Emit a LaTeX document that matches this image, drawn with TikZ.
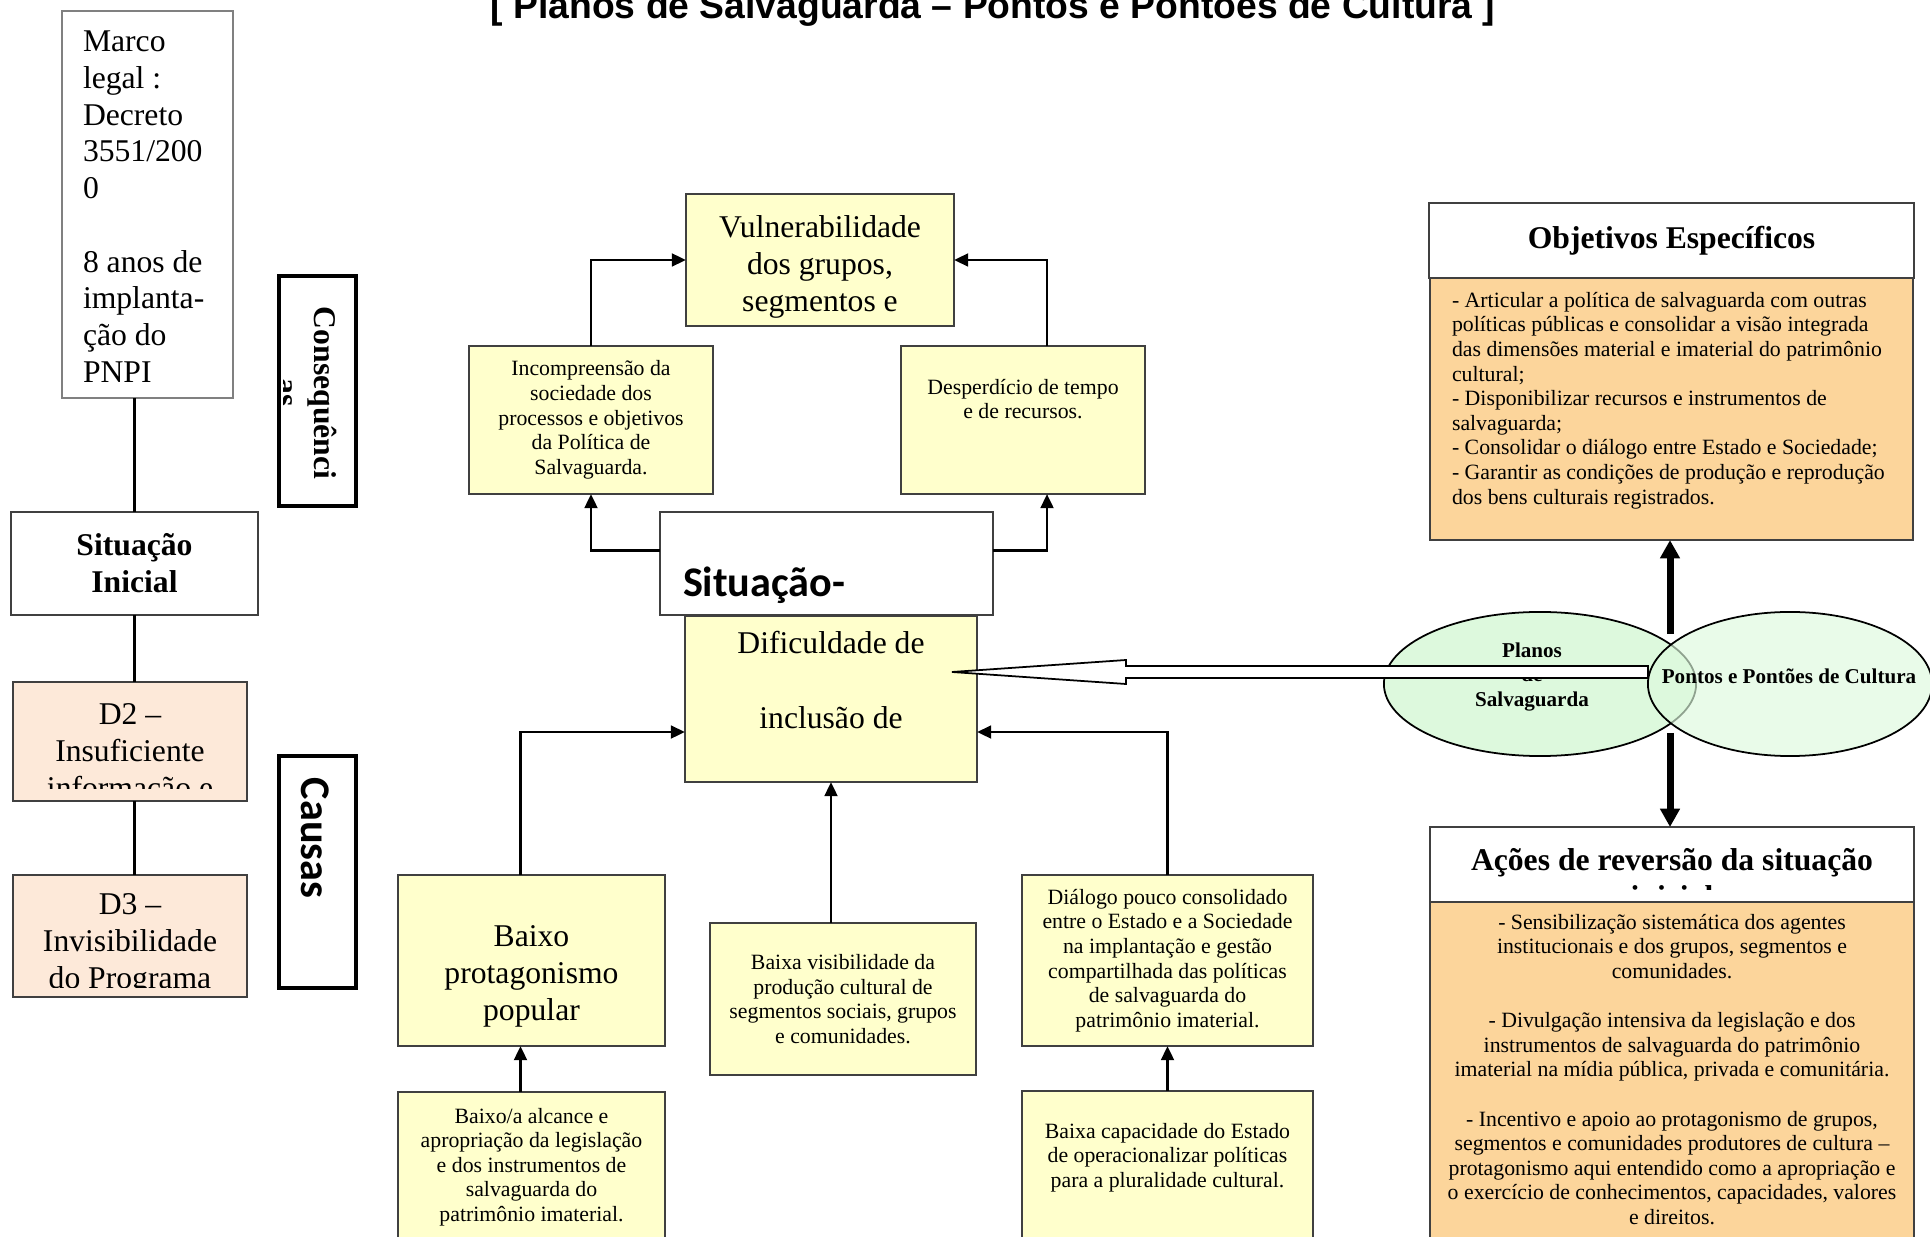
\documentclass[tikz,border=0pt]{standalone}
\usepackage{fontspec}
\setmainfont{Liberation Serif}
\newfontfamily\titlefont{Liberation Sans}
\newfontfamily\calfont{Carlito}
\usepackage{xcolor}
\definecolor{sYellow}{HTML}{FFFFCC}
\definecolor{sPeach}{HTML}{FDE9D9}
\definecolor{sOrange}{HTML}{FCD59B}
\definecolor{sGreen}{HTML}{DDF9DD}
\definecolor{sLine}{HTML}{404040}
\usepackage{tikz}
\usetikzlibrary{arrows.meta, positioning, shapes.geometric, calc}

\newcommand{\bigtxt}{\fontsize{9}{10.45}\selectfont}
\newcommand{\smalltxt}{\fontsize{6.2}{7}\selectfont}

\begin{document}
\begin{tikzpicture}[
  x=0.01cm, y=-0.01cm,
  every node/.style={inner sep=0pt, outer sep=0pt},
  cell/.style={rectangle, draw=sLine, line width=0.5pt, fill=sYellow,
               align=center, font=\smalltxt},
  dcell/.style={cell, fill=sPeach},
  wcell/.style={cell, fill=white},
  ocell/.style={cell, fill=sOrange},
  tag/.style={rectangle, draw=black, line width=1.2pt, fill=white},
  oval/.style={ellipse, draw=black, line width=0.5pt, fill=sGreen},
  link/.style={line width=0.8pt, -{Triangle[length=4pt, width=3.6pt]}},
  wire/.style={line width=0.6pt},
  fatlink/.style={line width=2pt, -{Triangle[length=5.2pt, width=5.4pt]}}
]
\useasboundingbox (0,0) rectangle (1930,1237);

\node[font=\titlefont\bfseries\fontsize{10.6}{12}\selectfont, anchor=base] (title)
  at (993,19) {[ Planos de Salvaguarda – Pontos e Pontões de Cultura ]};

% left column
\node[cell, fill=white, draw=gray, minimum width=1.71cm, minimum height=3.87cm] (marco) at (147.5,204.5) {};
\node[font=\bigtxt, align=left, anchor=north west] (marcotxt) at (83,31)
  {Marco\\legal :\\Decreto\\3551/200\\0\\[10.45pt]8 anos de\\implanta-\\ção do\\PNPI};
\node[wcell, font=\bigtxt\bfseries, minimum width=2.47cm, minimum height=1.03cm] (sitini) at (134.5,563.5) {Situação\\Inicial};
\node[dcell, minimum width=2.34cm, minimum height=1.19cm] (d2) at (130,741.5) {};
\begin{scope}
  \clip (d2.north west) rectangle ([yshift=0.13cm]d2.south east);
  \node[font=\bigtxt, align=center, anchor=north] (d2txt) at (130,704) {D2 –\\Insuficiente\\informação e};
\end{scope}
\node[dcell, minimum width=2.34cm, minimum height=1.22cm] (d3) at (130,936) {};
\begin{scope}
  \clip (d3.north west) rectangle ([yshift=0.10cm]d3.south east);
  \node[font=\bigtxt, align=center, anchor=north] (d3txt) at (130,894) {D3 –\\Invisibilidade\\do Programa};
\end{scope}
\draw[wire] (sitini.north |- marco.south) -- (sitini.north);
\draw[wire] (sitini.south) -- (sitini.south |- d2.north);
\draw[wire] (sitini.south |- d2.south) -- (sitini.south |- d3.north);

% side tags
\node[tag, minimum width=0.77cm, minimum height=2.30cm] (cons) at (317.5,391) {};
\begin{scope}
  \clip (283,280) rectangle (352,502);
  \node[font=\bigtxt\bfseries, rotate=-90, anchor=base] (constxt) at (314,393) {Consequênci};
  \node[font=\bigtxt\bfseries, rotate=-90, anchor=base] (constxt2) at (277,393) {as};
\end{scope}
\node[tag, minimum width=0.77cm, minimum height=2.32cm] (causas) at (317.5,872) {};
\node[font=\calfont\bfseries\fontsize{12}{14}\selectfont, rotate=-90, anchor=base] (causastxt) at (301,838) {Causas};

% consequences
\node[cell, minimum width=2.68cm, minimum height=1.32cm] (vuln) at (820,260) {};
\node[font=\bigtxt, align=center, below=0.22cm of vuln.north] (vulntxt) {Vulnerabilidade\\dos grupos,\\segmentos e};
\node[cell, minimum width=2.44cm, minimum height=1.48cm] (incomp) at (591,420)
  {Incompreensão da\\sociedade dos\\processos e objetivos\\da Política de\\Salvaguarda.};
\node[cell, minimum width=2.44cm, minimum height=1.48cm] (desp) at (1023,420) {};
\node[font=\smalltxt, align=center, below=0.33cm of desp.north] (desptxt) {Desperdício de tempo\\e de recursos.};

% problem
\node[cell, minimum width=2.92cm, minimum height=1.66cm] (dific) at (831,699) {};
\node[font=\fontsize{9}{21.3}\selectfont, align=center, below=0.15cm of dific.north] (dificxt) {Dificuldade de\\inclusão de};
\node[wcell, minimum width=3.33cm, minimum height=1.03cm] (sit) at (826.5,563.5) {};
\node[font=\calfont\bfseries\fontsize{12}{14}\selectfont, anchor=base west] (sittxt) at (683,597) {Situação-};

\draw[link] (incomp.north) |- (vuln.west);
\draw[link] ([xshift=0.24cm]desp.north) |- (vuln.east);
\draw[link] ([yshift=0.13cm]sit.west) -| (incomp.south);
\draw[link] ([yshift=0.13cm]sit.east) -| ([xshift=0.24cm]desp.south);

% causes
\node[cell, minimum width=2.67cm, minimum height=1.71cm] (baixoprot) at (531.5,960.5) {};
\node[font=\bigtxt, align=center, below=0.51cm of baixoprot.north] (baixoprottxt) {Baixo\\protagonismo\\popular};
\node[cell, minimum width=2.66cm, minimum height=1.52cm] (baixavis) at (843,999)
  {Baixa visibilidade da\\produção cultural de\\segmentos sociais, grupos\\e comunidades.};
\node[cell, minimum width=2.91cm, minimum height=1.71cm] (dialogo) at (1167.5,960.5)
  {Diálogo pouco consolidado\\entre o Estado e a Sociedade\\na implantação e gestão\\compartilhada das políticas\\de salvaguarda do\\patrimônio imaterial.};
\node[cell, minimum width=2.67cm, minimum height=1.58cm] (baixoalc) at (531.5,1171) {};
\node[font=\smalltxt, align=center, below=0.16cm of baixoalc.north] (baixoalctxt)
  {Baixo/a alcance e\\apropriação da legislação\\e dos instrumentos de\\salvaguarda do\\patrimônio imaterial.};
\node[cell, minimum width=2.91cm, minimum height=1.59cm] (baixacap) at (1167.5,1170.5) {};
\node[font=\smalltxt, align=center, below=0.32cm of baixacap.north] (baixacaptxt)
  {Baixa capacidade do Estado\\de operacionalizar políticas\\para a pluralidade cultural.};

\draw[link] ([xshift=-0.11cm]baixoprot.north) |- ([yshift=-0.33cm]dific.west);
\draw[link] (baixavis.north -| dific.south) -- (dific.south);
\draw[link] (dialogo.north) |- ([yshift=-0.33cm]dific.east);
\draw[link] ([xshift=-0.11cm]baixoalc.north) -- ([xshift=-0.11cm]baixoprot.south);
\draw[link] (baixacap.north) -- (dialogo.south);

% right column
\node[wcell, font=\bigtxt\bfseries, minimum width=4.85cm, minimum height=0.75cm] (objhead) at (1671.5,240.5) {Objetivos Específicos};
\node[ocell, minimum width=4.83cm, minimum height=2.62cm] (objbody) at (1671.5,409) {};
\node[font=\smalltxt, align=left, anchor=north west] (objtxt) at (1452,292)
  {- Articular a política de salvaguarda com outras\\
   políticas públicas e consolidar a visão integrada\\
   das dimensões material e imaterial do patrimônio\\
   cultural;\\
   - Disponibilizar recursos e instrumentos de\\
   salvaguarda;\\
   - Consolidar o diálogo entre Estado e Sociedade;\\
   - Garantir as condições de produção e reprodução\\
   dos bens culturais registrados.};
\node[wcell, minimum width=4.84cm, minimum height=0.75cm] (acohead) at (1672,864.5) {};
\begin{scope}
  \clip (1431,828) rectangle (1913,889);
  \node[font=\bigtxt\bfseries, anchor=base] (acotxt) at (1672,870) {Ações de reversão da situação};
  \node[font=\bigtxt\bfseries, anchor=base] (acotxt2) at (1672,907) {inicial};
\end{scope}
\node[ocell, minimum width=4.84cm, minimum height=3.48cm] (acobody) at (1672,1076) {};
\node[font=\smalltxt, align=center, anchor=north] (acobodytxt) at (1672,914)
  {- Sensibilização sistemática dos agentes\\
   institucionais e dos grupos, segmentos e\\
   comunidades.\\[7pt]
   - Divulgação intensiva da legislação e dos\\
   instrumentos de salvaguarda do patrimônio\\
   imaterial na mídia pública, privada e comunitária.\\[7pt]
   - Incentivo e apoio ao protagonismo de grupos,\\
   segmentos e comunidades produtores de cultura –\\
   protagonismo aqui entendido como a apropriação e\\
   o exercício de conhecimentos, capacidades, valores\\
   e direitos.};

% programs
\node[oval, minimum width=3.12cm, minimum height=1.44cm] (planos) at (1540,684) {};
\node[font=\fontsize{6}{7}\selectfont\bfseries, align=center] (planostxt) at (1532,677) {Planos\\de\\Salvaguarda};
\coordinate (tip) at (952,672);
\coordinate (tail) at (1648,672);
\draw[line width=0.5pt, fill=white] (tip) -- ++(174,-12) -- ++(0,6) -- ($(tail)+(0,-6)$)
  -- ($(tail)+(0,6)$) -- ++(-522,0) -- ++(0,6) -- cycle;
\node[oval, fill opacity=0.65, minimum width=2.84cm, minimum height=1.44cm] (pontos) at (1790,684) {};
\node[font=\fontsize{6}{7}\selectfont\bfseries] (pontostxt) at (1789,676) {Pontos e Pontões de Cultura};

\coordinate (upstart) at (1670,634);
\coordinate (downstart) at (1670,733);
\draw[fatlink] (upstart) -- (upstart |- objbody.south);
\draw[fatlink] (downstart) -- (downstart |- acohead.north);
\end{tikzpicture}
\end{document}
